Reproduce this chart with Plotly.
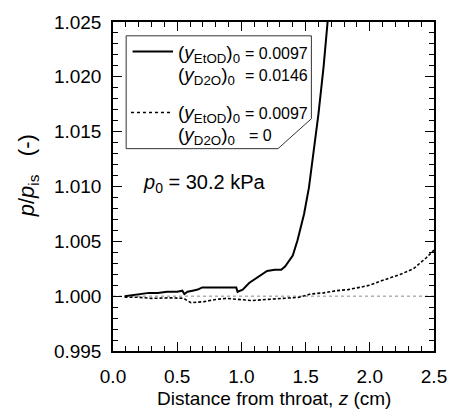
import plotly.graph_objects as go

# solid curve: (y_EtOD)0 = 0.0097, (y_D2O)0 = 0.0146
z_d2o = [0.09, 0.15, 0.22, 0.28, 0.35, 0.42, 0.50, 0.54, 0.556, 0.58, 0.62, 0.66, 0.695,
         0.75, 0.85, 0.96, 0.97, 1.01, 1.06, 1.10, 1.135, 1.17, 1.20, 1.26, 1.31, 1.34,
         1.375, 1.40, 1.437, 1.488, 1.526, 1.563, 1.60, 1.64, 1.672]
p_d2o = [1.0000, 1.0001, 1.0002, 1.0003, 1.0003, 1.0004, 1.0004, 1.0005, 1.0002, 1.0004,
         1.0005, 1.0006, 1.0008, 1.0008, 1.0008, 1.0008, 1.0004, 1.0006, 1.0012, 1.0015,
         1.0018, 1.0020, 1.0023, 1.0024, 1.0024, 1.0027, 1.0033, 1.0037, 1.0051, 1.0075,
         1.0099, 1.0133, 1.0166, 1.0209, 1.0251]

# dotted curve: (y_EtOD)0 = 0.0097, (y_D2O)0 = 0
z_dry = [0.09, 0.20, 0.30, 0.455, 0.55, 0.607, 0.71, 0.80, 0.88, 1.00, 1.085, 1.20, 1.34,
         1.45, 1.54, 1.64, 1.74, 1.83, 1.92, 2.00, 2.09, 2.17, 2.24, 2.34, 2.44, 2.50]
p_dry = [0.9999, 0.9999, 0.9998, 0.99985, 0.9998, 0.9994, 0.9995, 0.9997, 0.9998, 0.9997,
         0.9996, 0.9997, 0.9998, 0.9999, 1.0002, 1.0003, 1.0005, 1.0006, 1.0008, 1.0010,
         1.0014, 1.0017, 1.0020, 1.0025, 1.0035, 1.0042]

font = "Liberation Sans, Arial, sans-serif"

fig = go.Figure()
fig.add_trace(go.Scatter(x=[0, 2.5], y=[1.0, 1.0], mode="lines",
                         line=dict(color="#888888", width=1, dash="dot")))
fig.add_trace(go.Scatter(x=z_dry, y=p_dry, mode="lines",
                         line=dict(color="black", width=1.6, dash="3px,2px")))
fig.add_trace(go.Scatter(x=z_d2o, y=p_d2o, mode="lines",
                         line=dict(color="black", width=2)))

# legend box with clipped lower-right corner
fig.add_shape(type="path", xref="paper", yref="paper",
              path="M 0.041 0.958 L 0.618 0.958 L 0.618 0.706 L 0.514 0.615 L 0.041 0.615 Z",
              line=dict(color="#333333", width=1), fillcolor="white")
fig.add_shape(type="line", xref="paper", yref="paper", x0=0.061, x1=0.187, y0=0.910, y1=0.910,
              line=dict(color="black", width=2))
fig.add_shape(type="line", xref="paper", yref="paper", x0=0.056, x1=0.182, y0=0.725, y1=0.725,
              line=dict(color="black", width=1.5, dash="dot"))

labels = [("(<i>y</i><sub>EtOD</sub>)<sub>0</sub>", "= 0.0097", 0.903, 0.614, "right"),
          ("(<i>y</i><sub>D2O</sub>)<sub>0</sub>", "= 0.0146", 0.836, 0.614, "right"),
          ("(<i>y</i><sub>EtOD</sub>)<sub>0</sub>", "= 0.0097", 0.721, 0.614, "right"),
          ("(<i>y</i><sub>D2O</sub>)<sub>0</sub>", "= 0", 0.655, 0.418, "left")]
for lab, val, yy, xv, anchor in labels:
    fig.add_annotation(x=0.196, y=yy, xref="paper", yref="paper", text=lab, showarrow=False,
                       xanchor="left", yanchor="middle", font=dict(size=19, color="black"))
    fig.add_annotation(x=xv, y=yy, xref="paper", yref="paper", text=val, showarrow=False,
                       xanchor=anchor, yanchor="middle", font=dict(size=16, color="black"))

fig.add_annotation(x=0.088, y=0.509, xref="paper", yref="paper",
                   text="<i>p</i><sub>0</sub> = 30.2 kPa", showarrow=False,
                   xanchor="left", yanchor="middle", font=dict(size=20, color="black"))

# axis titles
fig.add_annotation(x=0.5, y=-0.145, xref="paper", yref="paper",
                   text="Distance from throat, <i>z</i> (cm)", showarrow=False,
                   xanchor="center", yanchor="middle", font=dict(size=19, color="black"))
fig.add_annotation(x=-0.266, y=0.533, xref="paper", yref="paper", textangle=-90,
                   text="<i>p</i>/<i>p</i><sub>is</sub>&nbsp;&nbsp;&nbsp;(-)", showarrow=False,
                   xanchor="center", yanchor="middle", font=dict(size=22, color="black"))

axis_common = dict(showline=True, linecolor="black", linewidth=1.5, mirror="ticks",
                   ticks="inside", tickcolor="black", ticklen=9, tickwidth=1.2,
                   showgrid=False, zeroline=False, tickfont=dict(size=19, color="black"))

fig.update_xaxes(range=[0, 2.5], dtick=0.5, tick0=0, tickformat=".1f", ticklabelstandoff=7,
                 minor=dict(dtick=0.1, ticks="inside", ticklen=5, tickcolor="black"),
                 **axis_common)
fig.update_yaxes(range=[0.995, 1.025], dtick=0.005, tick0=0.995, tickformat=".3f",
                 ticklabelstandoff=6,
                 minor=dict(dtick=0.001, ticks="inside", ticklen=5, tickcolor="black"),
                 **axis_common)

fig.update_layout(width=459, height=412, showlegend=False,
                  margin=dict(l=113, r=15, t=21, b=61),
                  paper_bgcolor="white", plot_bgcolor="white",
                  font=dict(family=font, color="black"))

# drop the default body margin so the figure sits at the window's corner
fig.write_html("out.html", config={"displayModeBar": False},
               post_script="document.body.style.margin='0';")
